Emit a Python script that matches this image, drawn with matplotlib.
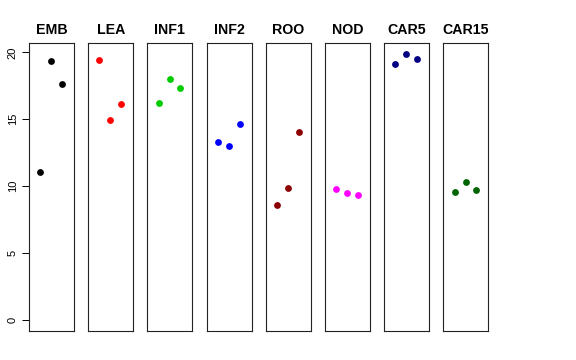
import matplotlib.pyplot as plt

plt.rcParams["font.family"] = ["Liberation Sans", "DejaVu Sans"]

groups = ["EMB", "LEA", "INF1", "INF2", "ROO", "NOD", "CAR5", "CAR15"]
colors = ["black", "red", "#00CD00", "blue", "#8B0000", "magenta", "#000080", "#006400"]
values = [
    [11.04, 19.38, 17.61],
    [19.43, 14.97, 16.14],
    [16.22, 18.01, 17.34],
    [13.33, 13.00, 14.67],
    [8.57, 9.89, 14.03],
    [9.79, 9.52, 9.34],
    [19.16, 19.91, 19.49],
    [9.59, 10.31, 9.69],
]
reps = [1, 2, 3]
yticks = [0, 5, 10, 15, 20]

W, H = 576, 360
fig = plt.figure(figsize=(W / 100, H / 100), dpi=100)

left0, pitch, pw = 29, 59.2, 45
top, bottom = 42.7, 331

for i, (name, col, vals) in enumerate(zip(groups, colors, values)):
    ax = fig.add_axes([(left0 + pitch * i) / W, (H - bottom) / H, pw / W, (bottom - top) / H])
    ax.scatter(reps, vals, color=col, s=24, linewidths=0, zorder=3)
    ax.set_xlim(-0.03, 4.1)
    ax.set_ylim(-0.82, 20.72)
    ax.set_xticks([])
    for sp in ax.spines.values():
        sp.set_linewidth(0.8)
        sp.set_color("#222222")
    ax.set_title(name, fontsize=10.2, fontweight="bold", pad=6.5)
    if i == 0:
        ax.set_yticks(yticks)
        ax.tick_params(axis="y", direction="out", length=5, width=0.7, labelsize=8, pad=3)
        for lab in ax.get_yticklabels():
            lab.set_rotation(90)
            lab.set_va("center")
    else:
        ax.set_yticks([])

fig.savefig("out.png", dpi=100)
